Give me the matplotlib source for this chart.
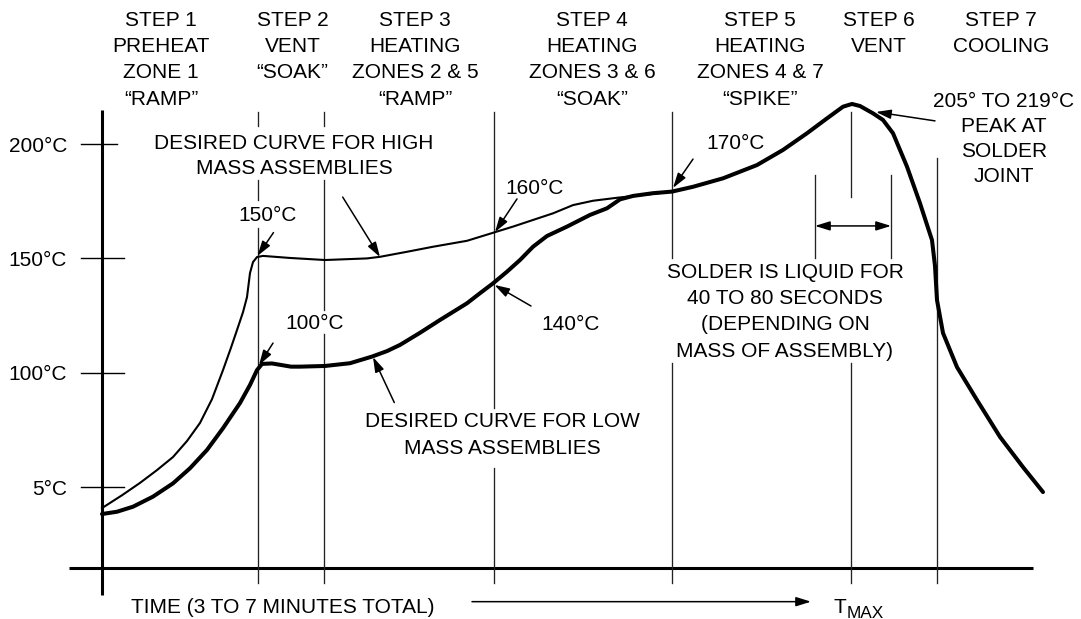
import numpy as np
import matplotlib.pyplot as plt

plt.rcParams['font.family'] = ['Liberation Sans', 'DejaVu Sans']

# time is in arbitrary units, 0 sits on the temperature axis
# high mass assemblies (thin curve)
high_t = [0, 20, 38, 55, 71, 85, 98, 110, 121, 129, 135, 141, 145, 148, 151, 155, 161,
          188, 223, 265, 278, 305, 331, 365, 391, 411, 431, 451, 471, 491, 515, 541, 570]
high_temp = [40.9, 46.5, 51.9, 57.5, 63.2, 70.2, 78.1, 88.5, 101.2, 111.0, 118.7, 126.5,
             133.1, 143.6, 148.4, 150.6, 151.1, 150.2, 149.3, 150.0, 150.7, 152.9, 155.1,
             157.7, 161.2, 163.9, 166.8, 169.7, 173.3, 175.2, 176.5, 177.7, 179.2]

# low mass assemblies (thick curve), goes on through the peak and the cooling
low_t = [0, 15, 31, 51, 71, 88, 105, 121, 138, 148, 155, 160, 170, 189, 198, 223, 248,
         270, 285, 298, 318, 338, 365, 378, 391, 405, 418, 431, 445, 465, 488, 505, 518,
         531, 551, 570, 591, 621, 655, 681, 705, 725, 741, 750, 758, 771, 781, 791, 805,
         818, 830, 833, 835, 841, 855, 875, 898, 921, 941]
low_temp = [38.3, 39.3, 41.5, 45.9, 51.7, 58.3, 66.3, 75.8, 86.8, 94.7, 101.2, 103.9,
            104.1, 102.7, 102.7, 103.0, 104.2, 107.1, 109.5, 112.2, 117.5, 123.1, 130.4,
            134.8, 139.1, 144.2, 149.3, 155.1, 159.8, 163.9, 169.0, 171.9, 175.8, 177.3,
            178.5, 179.2, 181.3, 185.0, 190.8, 197.4, 204.7, 211.2, 216.3, 217.5, 216.6,
            213.4, 210.5, 204.7, 190.1, 174.1, 158.0, 146.7, 131.8, 117.4, 102.5, 88.1,
            72.0, 58.8, 47.9]

temp_ticks = [200, 150, 100, 50]
temp_labels = ['200°C', '150°C', '100°C', '5°C']

# step boundaries and the pieces of each line that are drawn (gaps leave room for text)
step_t = [156, 222, 391.5, 569.5, 749, 834.5]
step_pieces = [
    [(207.9, 214.0), (175.5, 184.3), (8.2, 163.3)],
    [(207.9, 214.0), (127.5, 184.3), (8.2, 117.0)],
    [(84.6, 214.0), (8.2, 58.4)],
    [(150.2, 214.0), (8.2, 104.3)],
    [(176.8, 214.0), (8.2, 104.3)],
    [(8.2, 193.9)],
]
liquid_t = [713, 789]
liquid_range = (150.2, 186.5)
liquid_arrow_temp = 164.2

step_label_t = [59, 190.5, 313, 490, 658, 777, 899]
step_labels = [
    ['STEP 1', 'PREHEAT', 'ZONE 1', '“RAMP”'],
    ['STEP 2', 'VENT', '“SOAK”'],
    ['STEP 3', 'HEATING', 'ZONES 2 & 5', '“RAMP”'],
    ['STEP 4', 'HEATING', 'ZONES 3 & 6', '“SOAK”'],
    ['STEP 5', 'HEATING', 'ZONES 4 & 7', '“SPIKE”'],
    ['STEP 6', 'VENT'],
    ['STEP 7', 'COOLING'],
]

FS = 15
K = 0.437          # degrees per pixel of the drawing
CAP = 7.5 * K      # half cap height in degrees

fig = plt.figure(figsize=(10.81, 6.19), dpi=100)
ax = fig.add_axes([0, 0, 1, 1])
ax.set_xlim(-102, 979)
ax.set_ylim(200 - 475 * K, 200 + 144 * K)
ax.axis('off')


def block(x, y, lines, step=11.4, **kw):
    # y is the middle of the capitals of the first line
    for i, s in enumerate(lines):
        ax.text(x, y - CAP - i * step, s, ha='center', va='baseline', fontsize=FS, **kw)


def arrow(tail, tip, style='-|>'):
    ax.annotate('', xy=tip, xytext=tail,
                arrowprops=dict(arrowstyle=style + ',head_length=9,head_width=2.8',
                                mutation_scale=1, lw=1.1, color='k',
                                shrinkA=0, shrinkB=0))


# axes
ax.plot([0, 0], [2.9, 214.9], color='k', lw=2.2, solid_capstyle='butt')
ax.plot([-32.7, 931], [14.8, 14.8], color='k', lw=2.2, solid_capstyle='butt')
for tv, lab in zip(temp_ticks, temp_labels):
    ax.plot([-21.3, 14.7 if tv == 200 else 22], [tv, tv], color='k', lw=1.0)
    ax.text(-35, tv - CAP, lab, ha='right', va='baseline', fontsize=FS)

# step lines
for tv, pieces in zip(step_t, step_pieces):
    for lo, hi in pieces:
        ax.plot([tv, tv], [lo, hi], color='#222222', lw=0.95)
for tv in liquid_t:
    ax.plot([tv, tv], liquid_range, color='#222222', lw=0.95)
arrow((liquid_t[0], liquid_arrow_temp), (liquid_t[1], liquid_arrow_temp), style='<|-|>')

# curves
ax.plot(high_t, high_temp, color='k', lw=1.5, solid_joinstyle='round')
ax.plot(low_t, low_temp, color='k', lw=2.9, solid_joinstyle='round', solid_capstyle='round')

# step headers
for x, lines in zip(step_label_t, step_labels):
    block(x, 254.9, lines, step=11.49)

# notes
block(192, 201.0, ['DESIRED CURVE FOR HIGH', 'MASS ASSEMBLIES'], step=10.9)
block(400, 79.4, ['DESIRED CURVE FOR LOW', 'MASS ASSEMBLIES'], step=11.4)
block(165.6, 169.7, ['150°C'])
block(433, 181.6, ['160°C'])
block(469, 122.1, ['140°C'])
block(213, 122.3, ['100°C'])
block(634, 201.0, ['170°C'])
block(683, 144.9, ['SOLDER IS LIQUID FOR', '40 TO 80 SECONDS', '(DEPENDING ON',
                   'MASS OF ASSEMBLY)'], step=11.5)
block(902, 219.5, ['205° TO 219°C', 'PEAK AT', 'SOLDER', 'JOINT'], step=11.0)

arrow((171.5, 161.3), (155.5, 151.1))
arrow((171, 113.0), (157, 103.4))
arrow((240.7, 176.8), (278, 150.6))
arrow((292.3, 87.0), (271, 106.9))
arrow((415, 176.0), (393, 161.5))
arrow((429, 129.2), (392.5, 138.4))
arrow((591, 193.4), (571, 180.8))
arrow((833, 210.1), (774, 214.0))

# time axis caption
ax.text(180.5, -1.5 - CAP, 'TIME (3 TO 7 MINUTES TOTAL)', ha='center', va='baseline', fontsize=FS)
arrow((370, 0), (709, 0))
ax.text(732, -5.0, 'T', ha='left', va='baseline', fontsize=FS)
ax.text(744.5, -7.1, 'MAX', ha='left', va='baseline', fontsize=FS * 0.83)

fig.savefig('out.png', dpi=100)
